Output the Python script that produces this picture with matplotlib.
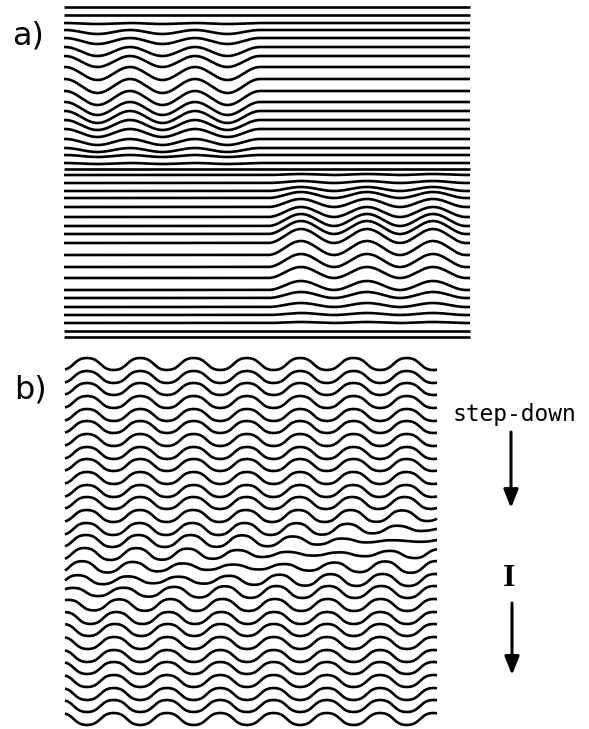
import numpy as np
import matplotlib
matplotlib.use('Agg')
import matplotlib.pyplot as plt

# ---- panel a: horizontal lines (pixel rows) ----
a_base = [7, 15, 23, 30, 38, 47, 56, 67, 79, 91, 102, 111, 120, 129, 139, 148, 155, 163, 169,
          175, 183, 191, 198, 207, 217, 226, 234, 243, 255, 267, 278, 290, 298, 307, 315, 323, 331, 337]
# how far each line sags down inside the left patch (upper half)
a_sag = [0, 0, 1, 4, 6, 9, 11, 13, 14, 14, 13, 12, 10, 8, 6, 4, 2, 1, 0,
         0, 0, 0, 0, 0, 0, 0, 0, 0, 0, 0, 0, 0, 0, 0, 0, 0, 0, 0]
# how far each line lifts up inside the right patch (lower half)
a_lift = [0, 0, 0, 0, 0, 0, 0, 0, 0, 0, 0, 0, 0, 0, 0, 0, 0, 0, 0,
          1, 2, 4, 6, 8, 10, 12, 13, 14, 14, 13, 11, 9, 6, 4, 2, 1, 0, 0]
a_xlim = (64, 470)
# patch edges (each patch holds three dips with two humps between them)
a_patch_left = (65, 260)
a_patch_right = (268, 466)

# ---- panel b: wavy lines ----
b_base = [364, 377, 389, 402, 415, 427, 440, 453, 465, 478, 491, 503, 516, 529, 541,
          554, 567, 580, 592, 605, 618, 630, 643, 656, 668, 681, 694, 706, 719]
b_xlim = (65, 437)
b_wavelength = 53.3
b_x0 = 73.7
b_amp = 6.0
b_flip_row = (18.0, 13.5)   # row where the fringes step by half a period, left end / right end
b_flatten = (0.3, 0.95)     # how much the stepping rows flatten, left end / right end


def patch_profile(x, lo, hi):
    lam = (hi - lo) / 3.0
    v = (1 - np.cos(2 * np.pi * (x - lo) / lam)) / 2
    v[(x < lo) | (x > hi)] = 0
    return v


fig = plt.figure(figsize=(5.89, 7.29), dpi=100)
ax = fig.add_axes([0, 0, 1, 1])
ax.set_xlim(0, 589)
ax.set_ylim(729, 0)
ax.axis('off')

lw = 1.9

# panel a
xa = np.linspace(a_xlim[0], a_xlim[1], 800)
vl = patch_profile(xa, *a_patch_left)
vr = patch_profile(xa, *a_patch_right)
for y0, s, l in zip(a_base, a_sag, a_lift):
    ax.plot(xa, y0 + s * vl - l * vr, color='k', lw=lw, solid_capstyle='butt')

# panel b
xb = np.linspace(b_xlim[0], b_xlim[1], 800)
frac = (xb - b_xlim[0]) / (b_xlim[1] - b_xlim[0])
row_t = b_flip_row[0] + (b_flip_row[1] - b_flip_row[0]) * frac
flat = b_flatten[0] + (b_flatten[1] - b_flatten[0]) * frac
for i, y0 in enumerate(b_base):
    d = i - row_t
    phase = 2 * np.pi * (xb - b_x0) / b_wavelength + np.pi / (1 + np.exp(-d / 1.2))
    amp = b_amp * (1 - flat * np.exp(-(d / 1.2) ** 2))
    wave = np.tanh(1.0 * np.sin(phase)) / np.tanh(1.0)
    ax.plot(xb, y0 - amp * wave, color='k', lw=lw, solid_capstyle='butt')

ax.text(12, 44, 'a)', fontsize=23, family='DejaVu Sans', va='baseline', ha='left')
ax.text(14, 398, 'b)', fontsize=23, family='DejaVu Sans', va='baseline', ha='left')
ax.text(514, 414, 'step-down', fontsize=16.5, family='DejaVu Sans Mono', va='center', ha='center')
ax.text(509, 579, 'I', fontsize=23, family='Liberation Serif', weight='bold', va='center', ha='center')

arrow = dict(arrowstyle='-|>,head_length=0.55,head_width=0.22', lw=2.2, color='k', mutation_scale=20,
             shrinkA=0, shrinkB=0)
ax.annotate('', xy=(511, 508), xytext=(511, 432), arrowprops=arrow)
ax.annotate('', xy=(512, 675), xytext=(512, 603), arrowprops=arrow)

fig.savefig('out.png', dpi=100, facecolor='white')
